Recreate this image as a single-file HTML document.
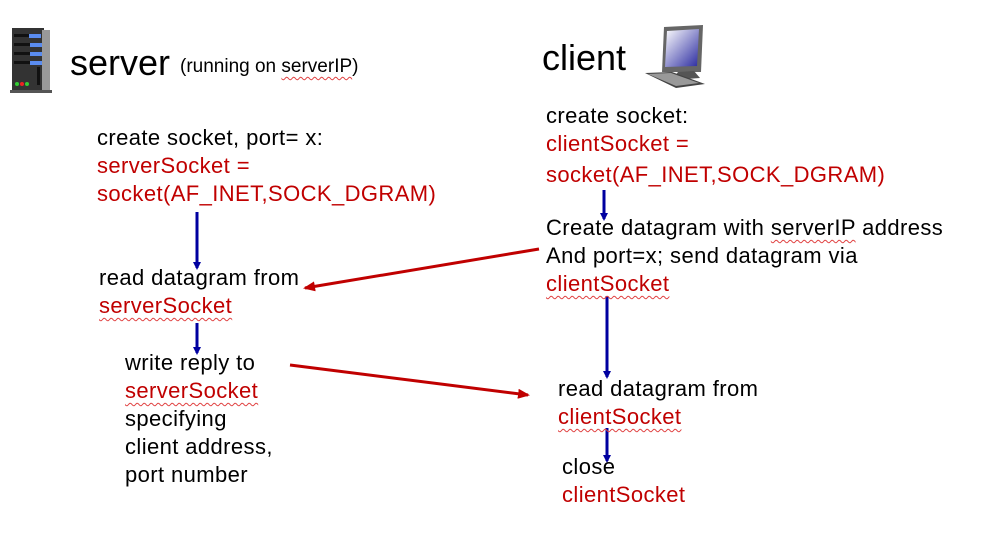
<!DOCTYPE html>
<html><head><style>
body{margin:0;width:987px;height:542px;background:#fff;position:relative;overflow:hidden;font-family:"Liberation Sans",Arial,sans-serif;}
.t{position:absolute;font-size:22px;letter-spacing:0.4px;line-height:28px;white-space:nowrap;color:#000}
.r{color:#c00000}
.w{text-decoration:underline wavy #e04040 1px;text-underline-offset:4px}
svg{position:absolute;left:0;top:0}
</style></head><body>
<svg width="987" height="542">
<defs>
<marker id="b" markerWidth="8" markerHeight="8" refX="6" refY="4" orient="auto" markerUnits="userSpaceOnUse"><path d="M0,0 L8,4 L0,8 z" fill="#0000a0"/></marker>
<marker id="rd" markerWidth="12" markerHeight="10" refX="10" refY="5" orient="auto" markerUnits="userSpaceOnUse"><path d="M0,0 L12,5 L0,10 z" fill="#c00000"/></marker>
<linearGradient id="sc" x1="0" y1="0" x2="1" y2="1"><stop offset="0" stop-color="#fff"/><stop offset="1" stop-color="#2a2aa0"/></linearGradient>
</defs>
<g stroke="#0000a0" stroke-width="3">
<line x1="197" y1="212" x2="197" y2="268" marker-end="url(#b)"/>
<line x1="197" y1="323" x2="197" y2="353" marker-end="url(#b)"/>
<line x1="604" y1="190" x2="604" y2="219" marker-end="url(#b)"/>
<line x1="607" y1="296" x2="607" y2="377" marker-end="url(#b)"/>
<line x1="607" y1="428" x2="607" y2="461" marker-end="url(#b)"/>
</g>
<g stroke="#c00000" stroke-width="3">
<line x1="539" y1="249" x2="305" y2="288" marker-end="url(#rd)"/>
<line x1="290" y1="365" x2="528" y2="395" marker-end="url(#rd)"/>
</g>
<!-- server icon -->
<rect x="12" y="28" width="32" height="62" fill="#333"/>
<rect x="42" y="30" width="8" height="60" fill="#999"/>
<g fill="#111"><rect x="14" y="34" width="26" height="3"/><rect x="14" y="43" width="26" height="3"/><rect x="14" y="52" width="26" height="3"/><rect x="14" y="61" width="26" height="3"/></g>
<g fill="#5a8cf0"><rect x="29" y="34" width="12" height="4"/><rect x="30" y="43" width="12" height="4"/><rect x="30" y="52" width="12" height="4"/><rect x="30" y="61" width="12" height="4"/></g>
<rect x="37" y="67" width="3" height="18" fill="#111"/>
<circle cx="17" cy="84" r="2" fill="#3c3"/><circle cx="22" cy="84" r="2" fill="#e22"/><circle cx="27" cy="84" r="2" fill="#3c3"/>
<rect x="10" y="90" width="42" height="3" fill="#555"/>
<!-- client icon -->
<polygon points="664,27 703,25 701,72 662,72" fill="#666"/>
<polygon points="667,31 699,29 697,66 665,67" fill="url(#sc)"/>
<polygon points="678,72 694,71 700,78 672,80" fill="#555"/>
<polygon points="645,73 672,72 705,84 676,88" fill="#444"/>
<polygon points="648,74 671,73 699,83 676,86" fill="#999"/>
</svg>
<div class="t" style="left:70px;top:40px;font-size:36px;line-height:46px;letter-spacing:0">server</div>
<div class="t" style="left:180px;top:54px;font-size:19px;line-height:26px;letter-spacing:0">(running on <span class="w">serverIP</span>)</div>
<div class="t" style="left:542px;top:35px;font-size:36px;line-height:46px;letter-spacing:0">client</div>

<div class="t" style="left:97px;top:124px">create socket, port= x:<br><span class="r">serverSocket =</span><br><span class="r">socket(AF_INET,SOCK_DGRAM)</span></div>
<div class="t" style="left:99px;top:264px">read datagram from<br><span class="r w">serverSocket</span></div>
<div class="t" style="left:125px;top:349px">write reply to<br><span class="r w">serverSocket</span><br>specifying<br>client address,<br>port number</div>

<div class="t" style="left:546px;top:102px">create socket:<br><span class="r">clientSocket =</span></div>
<div class="t" style="left:546px;top:161px"><span class="r">socket(AF_INET,SOCK_DGRAM)</span></div>
<div class="t" style="left:546px;top:214px">Create datagram with <span class="w">serverIP</span> address<br>And port=x; send datagram via<br><span class="r w">clientSocket</span></div>
<div class="t" style="left:558px;top:375px">read datagram from<br><span class="r w">clientSocket</span></div>
<div class="t" style="left:562px;top:453px">close<br><span class="r">clientSocket</span></div>
</body></html>
